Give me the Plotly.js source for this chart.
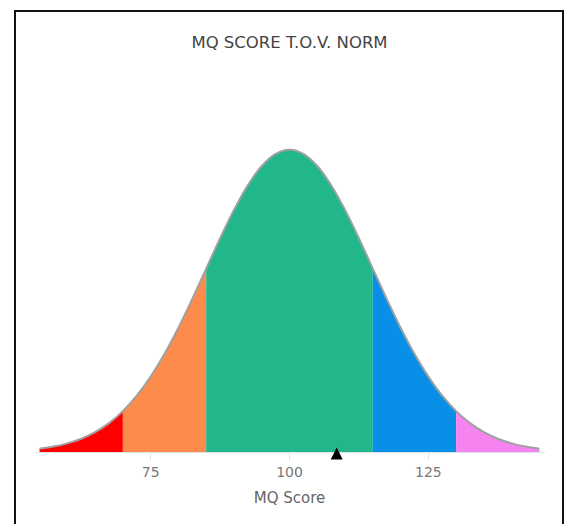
<!DOCTYPE html>
<html>
<head>
<meta charset="utf-8">
<script src="https://cdn.plot.ly/plotly-3.0.1.min.js"></script>
<style>
  html, body { margin: 0; padding: 0; background: #fff; overflow: hidden; }
  #wrap { position: relative; width: 569px; height: 524px; }
  #chart { position: absolute; left: 0; top: 0; width: 569px; height: 524px; }
  #frame { position: absolute; left: 14px; top: 10px; width: 546px; height: 600px;
           border: 2px solid #111; pointer-events: none; box-sizing: content-box; }
</style>
</head>
<body>
<div id="wrap">
  <div id="chart"></div>
  <div id="frame"></div>
</div>
<script>
// Scores along the x axis (MQ Score)
const scores = [55, 57.5, 60, 62.5, 65, 67.5, 70, 72.5, 75, 77.5, 80, 82.5, 85, 87.5, 90, 92.5, 95, 97.5, 100,
                102.5, 105, 107.5, 110, 112.5, 115, 117.5, 120, 122.5, 125, 127.5, 130, 132.5, 135, 137.5, 140, 142.5, 145];
// Curve height (density)
const density = [0.000295, 0.000480, 0.000760, 0.001169, 0.001748, 0.002543, 0.003599, 0.004954, 0.006632, 0.008634,
                 0.010934, 0.013466, 0.016131, 0.018795, 0.021297, 0.023471, 0.025159, 0.026229, 0.026596,
                 0.026229, 0.025159, 0.023471, 0.021297, 0.018795, 0.016131, 0.013466, 0.010934, 0.008634,
                 0.006632, 0.004954, 0.003599, 0.002543, 0.001748, 0.001169, 0.000760, 0.000480, 0.000295];
// Band boundaries and colours
const bandEdges = [55, 70, 85, 115, 130, 145];
const bandColors = ["#FF0000", "#FD8B4B", "#22B78B", "#0A8FE8", "#F584F0"];
// Marker position (tip of the triangle)
const markerScore = [108.5];
const markerValue = [0.0004];
// Tick labels
const tickVals = [75, 100, 125];
const tickText = ["75", "100", "125"];

const traces = [];
for (let i = 0; i < bandColors.length; i++) {
  const xs = [], ys = [];
  scores.forEach((s, k) => {
    if (s >= bandEdges[i] && s <= bandEdges[i + 1]) { xs.push(s); ys.push(density[k]); }
  });
  traces.push({
    x: xs, y: ys, type: "scatter", mode: "lines",
    line: { width: 0, shape: "spline", color: bandColors[i] },
    fill: "tozeroy", fillcolor: bandColors[i],
    hoverinfo: "skip", showlegend: false
  });
}
traces.push({
  x: scores, y: density, type: "scatter", mode: "lines",
  line: { width: 2, shape: "spline", color: "#a0a0a0" },
  hoverinfo: "skip", showlegend: false
});
traces.push({
  x: markerScore, y: markerValue, type: "scatter", mode: "markers",
  xaxis: "x", yaxis: "y2",
  marker: { symbol: "arrow-up", size: 12, color: "#000", line: { width: 0 } },
  cliponaxis: false, hoverinfo: "skip", showlegend: false
});

const layout = {
  width: 569, height: 524,
  margin: { l: 34, r: 24, t: 128, b: 72 },
  paper_bgcolor: "#fff", plot_bgcolor: "#fff",
  font: { family: "DejaVu Sans", color: "#666" },
  title: {
    text: "MQ SCORE T.O.V. NORM",
    font: { family: "DejaVu Sans", size: 16.5, color: "#444" },
    x: 0.5, xref: "paper", xanchor: "center",
    y: 1 - 42 / 524, yref: "container", yanchor: "middle"
  },
  xaxis: {
    range: [54, 146],
    tickvals: tickVals, ticktext: tickText,
    ticks: "outside", ticklen: 7, tickcolor: "#dde3ea",
    showline: true, linecolor: "#dde3ea", linewidth: 1,
    showgrid: false, zeroline: false, layer: "below traces",
    tickfont: { size: 14, color: "#777" },
    title: { text: "MQ Score", font: { size: 15, color: "#666" }, standoff: 13 }
  },
  yaxis: {
    range: [0, 0.0285], visible: false, showgrid: false, zeroline: false
  },
  yaxis2: {
    range: [0, 0.0285], overlaying: "y", visible: false, showgrid: false, zeroline: false
  }
};

Plotly.newPlot("chart", traces, layout, { displayModeBar: false, staticPlot: true });
</script>
</body>
</html>
